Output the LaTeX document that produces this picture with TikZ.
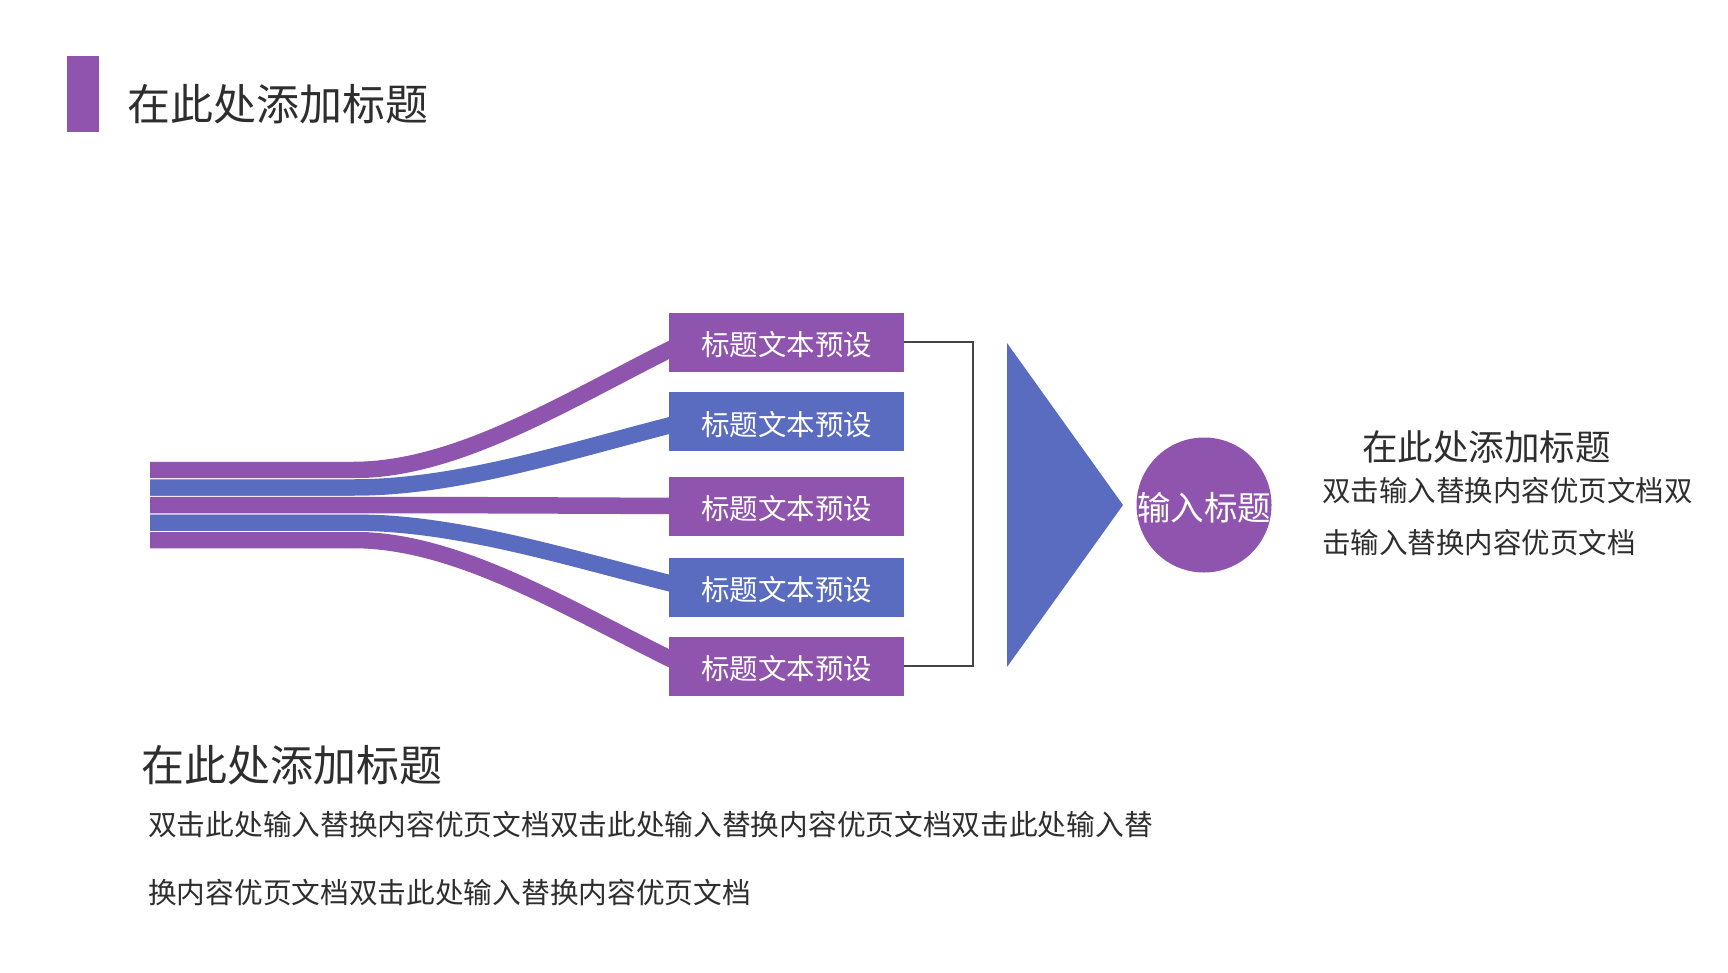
\documentclass[tikz,border=0pt]{standalone}
\usepackage{fontspec}
\setmainfont{Noto Sans CJK SC}
\usetikzlibrary{backgrounds}

\definecolor{themepurple}{HTML}{8F54AE}
\definecolor{themeblue}{HTML}{5A6CC0}
\definecolor{textgray}{HTML}{2E2E2E}
\definecolor{linegray}{HTML}{454545}

\begin{document}
\begin{tikzpicture}[x=1pt, y=-1pt,
    band/.style={line width=16.5pt, preaction={draw=white, line width=18.5pt}},
    stepbox/.style={minimum width=235pt, minimum height=59pt, inner sep=0pt},
    boxlabel/.style={inner sep=0pt, text=white, font=\fontsize{28.5pt}{32pt}\selectfont},
    heading/.style={anchor=west, inner sep=0pt, text=textgray},
    bodytext/.style={anchor=west, inner sep=0pt, text=textgray,
        font=\fontsize{28.7pt}{34pt}\selectfont}]

    \useasboundingbox (0,0) rectangle (1728,972);

    % --- Page title ---
    \fill[themepurple] (67,56) rectangle (99,132);
    \node[heading, font=\fontsize{43pt}{50pt}\selectfont] (title) at (127,104) {在此处添加标题};

    % --- Boxes (purple / blue) ---
    \foreach \i/\by/\col in {1/342/themepurple, 2/421.5/themeblue, 3/506/themepurple,
                             4/587/themeblue, 5/666/themepurple} {
        \node[stepbox, fill=\col] (b\i) at (786.5,\by) {};
        \node[boxlabel] (t\i) at ([yshift=-3pt]b\i.center) {标题文本预设};
    }

    % --- Bands running into the boxes ---
    \begin{scope}[on background layer]
        \fill[white] (0,0) rectangle (1728,972);
        \foreach \i/\y/\by/\col in {1/470/342/themepurple, 5/540/666/themepurple,
                                    2/487.5/421.5/themeblue, 4/522.5/587/themeblue,
                                    3/505/506/themepurple} {
            \coordinate (s\i) at (150,\y);
            \draw[band, draw=\col] (s\i) -- (353,\y)
                .. controls (460,\y) and (570,{\by+0.44*(\y-\by)}) .. ([xshift=16pt]b\i.west);
        }
    \end{scope}

    % --- Bracket ---
    \coordinate (brk) at (973,505);
    \draw[linegray, line width=1.5pt] (b1.east) -| (brk) |- (b5.east);

    % --- Arrow head and circle ---
    \fill[themeblue] (1007,343) -- (1123,505) -- (1007,667) -- cycle;
    \node[circle, fill=themepurple, minimum size=135pt, inner sep=0pt] (inp) at (1204,505) {};
    \node[boxlabel, font=\fontsize{33.5pt}{36pt}\selectfont] (inptxt) at ([yshift=-3pt]inp.center) {输入标题};

    % --- Right text ---
    \node[heading, font=\fontsize{35.5pt}{40pt}\selectfont] (rtitle) at (1362,447) {在此处添加标题};
    \node[bodytext, font=\fontsize{28.5pt}{34pt}\selectfont] (rline1) at (1322,491) {双击输入替换内容优页文档双};
    \node[bodytext, font=\fontsize{28.5pt}{34pt}\selectfont] (rline2) at (1322,543) {击输入替换内容优页文档};

    % --- Bottom text ---
    \node[heading, font=\fontsize{43pt}{50pt}\selectfont] (btitle) at (141,765) {在此处添加标题};
    \node[bodytext] (bline1) at (148,825) {双击此处输入替换内容优页文档双击此处输入替换内容优页文档双击此处输入替};
    \node[bodytext] (bline2) at (148,893) {换内容优页文档双击此处输入替换内容优页文档};

\end{tikzpicture}
\end{document}
